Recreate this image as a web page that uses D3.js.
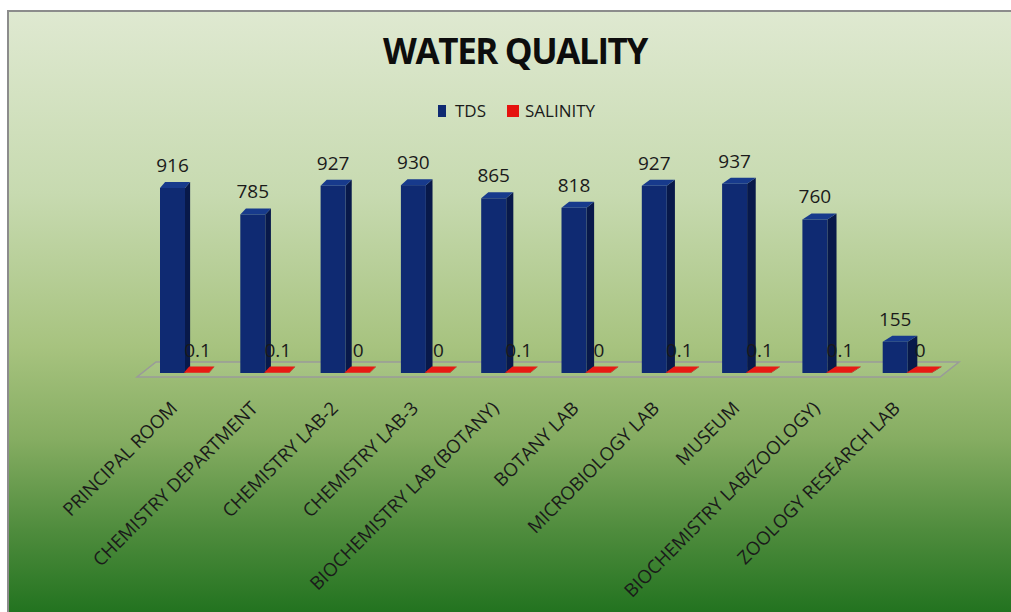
<!DOCTYPE html>
<html>
<head>
<meta charset="utf-8">
<script src="https://d3js.org/d3.v7.min.js"></script>
<style>
  body { margin: 0; background: #fff; overflow: hidden; }
  svg { display: block; }
  text { font-family: "Open Sans", "Noto Sans", sans-serif; }
</style>
</head>
<body>
<div id="visualization"></div>
<script>
// data
var categories = ["PRINCIPAL ROOM", "CHEMISTRY DEPARTMENT", "CHEMISTRY LAB-2", "CHEMISTRY LAB-3",
    "BIOCHEMISTRY LAB (BOTANY)", "BOTANY LAB", "MICROBIOLOGY LAB", "MUSEUM",
    "BIOCHEMISTRY LAB(ZOOLOGY)", "ZOOLOGY RESEARCH LAB"];
var tds = [916, 785, 927, 930, 865, 818, 927, 937, 760, 155];
var salinity = [0.1, 0.1, 0, 0, 0.1, 0, 0.1, 0.1, 0.1, 0];
var seriesNames = ["TDS", "SALINITY"];

var width = 1011, height = 612;

var svg = d3.select("#visualization")
    .append("svg")
    .attr("width", width)
    .attr("height", height);

// background gradient
var defs = svg.append("defs");
var grad = defs.append("linearGradient")
    .attr("id", "bg")
    .attr("x1", 0).attr("y1", 0).attr("x2", 0).attr("y2", 1);
[[0, "#dfe9d1"], [0.3, "#c7dab0"], [0.55, "#a7c37f"], [0.7, "#86ad62"], [0.85, "#4f8c3d"], [1, "#1d701c"]]
    .forEach(function(s) {
        grad.append("stop").attr("offset", s[0]).attr("stop-color", s[1]);
    });

svg.append("rect")
    .attr("x", 7).attr("y", 10)
    .attr("width", width).attr("height", height)
    .attr("fill", "url(#bg)");
svg.append("path")
    .attr("d", "M8," + height + "V11H" + width)
    .attr("fill", "none")
    .attr("stroke", "#8c8c8c")
    .attr("stroke-width", 2);

// scales
var x = d3.scaleBand().domain(categories).range([140, 943]);
var xs = d3.scaleBand().domain(seriesNames).range([20, 70]);
var y = d3.scaleLinear().domain([0, 1000]).range([373, 171]);
var color = d3.scaleOrdinal().domain(seriesNames).range(["#0f2a72", "#e5120e"]);
var sideColor = d3.scaleOrdinal().domain(seriesNames).range(["#08194a", "#a00c0a"]);
var topColor = d3.scaleOrdinal().domain(seriesNames).range(["#173a8c", "#e81a14"]);

// depth grows to the right (perspective)
var depthX = d3.scaleLinear().domain([140, 943]).range([5, 10]);
var depthY = -6;

// floor
var fx0 = x.range()[0] - 3, fx1 = x.range()[1] - 3, fy = y(0) + 4;
svg.append("path")
    .attr("class", "floor")
    .attr("d", "M" + fx0 + "," + fy + "L" + fx1 + "," + fy +
        "L" + (fx1 + 19) + "," + (fy - 15) + "L" + (fx0 + 19) + "," + (fy - 15) + "Z")
    .attr("fill", "rgba(255,255,255,0.08)")
    .attr("stroke", "#9a9a9a")
    .attr("stroke-width", 1.5);

var rows = [];
categories.forEach(function(c, i) {
    rows.push({cat: c, series: "TDS", value: tds[i]});
    rows.push({cat: c, series: "SALINITY", value: salinity[i]});
});

function draw_bar(g, d) {
    var x0 = x(d.cat) + xs(d.series), w = xs.bandwidth();
    if (d.series === "SALINITY") { x0 -= 1; }
    var y0 = y(0), y1 = Math.min(y(d.value), y0 - 0.5);
    var dx = depthX(x0), dy = depthY;
    // side
    g.append("path")
        .attr("d", "M" + (x0 + w) + "," + y0 + "L" + (x0 + w + dx) + "," + (y0 + dy) +
            "L" + (x0 + w + dx) + "," + (y1 + dy) + "L" + (x0 + w) + "," + y1 + "Z")
        .attr("fill", sideColor(d.series));
    // front
    g.append("rect")
        .attr("x", x0).attr("y", y1)
        .attr("width", w).attr("height", y0 - y1)
        .attr("fill", color(d.series));
    // top
    g.append("path")
        .attr("d", "M" + x0 + "," + y1 + "L" + (x0 + dx) + "," + (y1 + dy) +
            "L" + (x0 + w + dx) + "," + (y1 + dy) + "L" + (x0 + w) + "," + y1 + "Z")
        .attr("fill", topColor(d.series));
}

var bars = svg.append("g").attr("class", "bars");
rows.forEach(function(d) {
    draw_bar(bars.append("g").attr("class", "bar bar-" + d.series), d);
});

// value labels
svg.append("g")
    .attr("class", "labels")
    .selectAll("text")
    .data(rows)
    .enter().append("text")
    .attr("x", function(d) { return x(d.cat) + xs(d.series) + xs.bandwidth() / 2; })
    .attr("y", function(d) { return y(d.value) - 16; })
    .attr("text-anchor", "middle")
    .attr("font-size", "19px")
    .attr("fill", "#1a1a1a")
    .text(function(d) { return d.value; });

// category labels
svg.append("g")
    .attr("class", "x-labels")
    .selectAll("text")
    .data(categories)
    .enter().append("text")
    .attr("transform", function(d) {
        return "translate(" + (x(d) + x.bandwidth() / 2 - 11) + ",400) rotate(-45)";
    })
    .attr("text-anchor", "end")
    .attr("dy", "0.72em")
    .attr("font-size", "18.5px")
    .attr("fill", "#1a1a1a")
    .text(function(d) { return d; });

// title
svg.append("text")
    .attr("x", 515)
    .attr("y", 64)
    .attr("text-anchor", "middle")
    .attr("font-size", "35px")
    .attr("font-weight", "bold")
    .attr("letter-spacing", "-1.4px")
    .attr("fill", "#0d0d0d")
    .text("WATER QUALITY");

// legend
var legend = svg.append("g")
    .attr("class", "legend")
    .attr("transform", "translate(438,105)");
var lx = [0, 69];
seriesNames.forEach(function(s, i) {
    legend.append("rect")
        .attr("x", lx[i]).attr("y", 0)
        .attr("width", i ? 12 : 8).attr("height", 12)
        .attr("fill", color(s));
    legend.append("text")
        .attr("x", lx[i] + (i ? 18 : 17)).attr("y", 12)
        .attr("font-size", "17px")
        .attr("fill", "#1a1a1a")
        .text(s);
});
</script>
</body>
</html>
